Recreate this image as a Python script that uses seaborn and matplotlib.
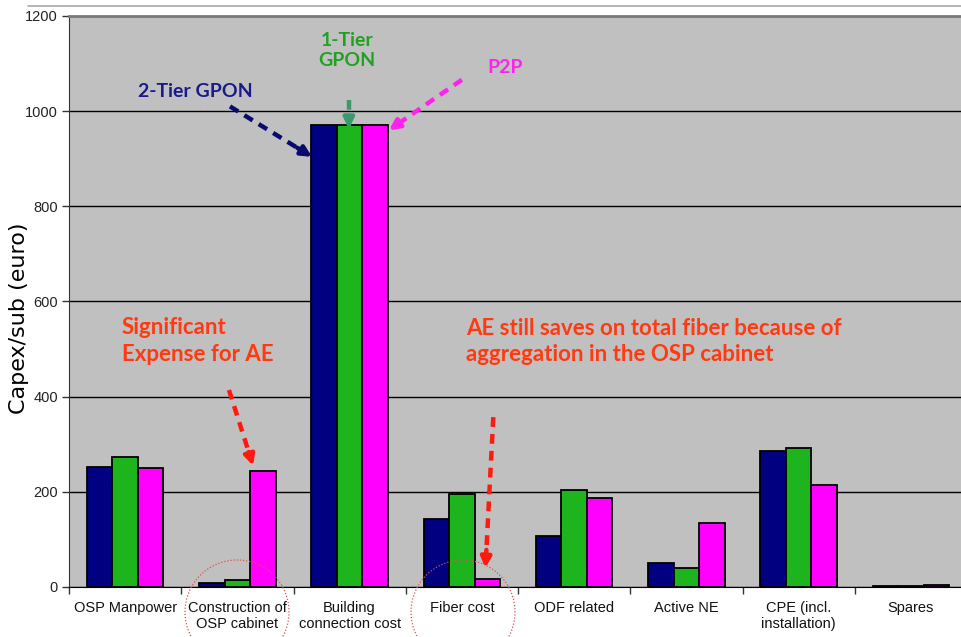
import matplotlib
matplotlib.use("Agg")
import matplotlib.pyplot as plt
from matplotlib.patches import Ellipse
from matplotlib.lines import Line2D
import numpy as np
import pandas as pd
import seaborn as sns

# Cost categories (x axis)
categories = [
    "OSP Manpower",
    "Construction of\nOSP cabinet",
    "Building\nconnection cost",
    "Fiber cost",
    "ODF related",
    "Active NE",
    "CPE (incl.\ninstallation)",
    "Spares",
]

# Capex per subscriber (euro) for each architecture
tier2_gpon = [252, 9, 970, 143, 107, 51, 286, 3]
tier1_gpon = [273, 15, 970, 195, 204, 40, 293, 3]
p2p = [250, 244, 970, 16, 187, 134, 214, 5]

schemes = ["2-Tier GPON", "1-Tier GPON", "P2P"]
colors = {"2-Tier GPON": "#000080", "1-Tier GPON": "#1EB41E", "P2P": "#FF00FF"}

y_ticks = [0, 200, 400, 600, 800, 1000, 1200]

df = pd.DataFrame({
    "category": categories * 3,
    "scheme": [s for s in schemes for _ in categories],
    "value": tier2_gpon + tier1_gpon + p2p,
})

sns.set_style("white")
plt.rcParams["font.family"] = ["Liberation Sans", "DejaVu Sans"]

fig = plt.figure(figsize=(9.61, 6.37), dpi=100)
fig.patch.set_facecolor("white")
ax = fig.add_axes([69 / 961, 50 / 637, 898 / 961, 571 / 637])
ax.set_facecolor("#C0C0C0")

sns.barplot(
    data=df, x="category", y="value", hue="scheme", order=categories,
    hue_order=schemes, palette=colors, width=0.68, gap=0,
    edgecolor="black", linewidth=1.3, saturation=1, legend=False, ax=ax,
    zorder=3,
)

ax.set_ylim(0, 1200)
ax.set_xlim(-0.5, 7.5)
ax.set_yticks(y_ticks)
ax.set_yticklabels([str(v) for v in y_ticks], fontsize=10.5, color="#222222")
ax.grid(axis="y", color="black", linewidth=1.0, zorder=0)
ax.set_axisbelow(True)

# group boundaries carry tick marks, centres carry the labels
ax.set_xticks(np.arange(-0.5, 8.0, 1.0))
ax.set_xticklabels([])
ax.set_xticks(np.arange(len(categories)), minor=True)
ax.set_xticklabels(categories, minor=True, fontsize=10.5, color="#111111")
ax.tick_params(axis="x", which="major", length=5, width=1, color="#333333",
               direction="out", bottom=True)
ax.tick_params(axis="x", which="minor", length=0, pad=10)
ax.tick_params(axis="y", length=5, width=1, color="#333333", direction="out",
               left=True, pad=3)

ax.set_xlabel("")
ax.set_ylabel("Capex/sub (euro)", fontsize=16, family="DejaVu Sans",
              color="black")
ax.yaxis.set_label_coords(-0.044, 0.47)

ax.spines["right"].set_visible(False)
ax.spines["left"].set_color("#333333")
ax.spines["bottom"].set_color("black")
ax.spines["top"].set_color("#7A7A7A")
ax.spines["top"].set_linewidth(2)

ann_font = ["Lato", "DejaVu Sans"]

# dashed pointer ending in a solid arrow head
def dashed_arrow(x0, y0, x1, y1, color, lw, frac=0.82):
    xm = x0 + (x1 - x0) * frac
    ym = y0 + (y1 - y0) * frac
    ax.plot([x0, xm], [y0, ym], color=color, lw=lw, ls=(0, (2.2, 1.6)),
            solid_capstyle="butt", dash_capstyle="butt", zorder=5,
            clip_on=False)
    ax.annotate("", xy=(x1, y1), xytext=(xm, ym),
                arrowprops=dict(arrowstyle="-|>,head_length=0.6,head_width=0.3",
                                color=color, lw=lw, shrinkA=0, shrinkB=0),
                zorder=5, annotation_clip=False)

ax.text(0.622, 1042, "2-Tier GPON", color="#1A1A8C", fontsize=14,
        family=ann_font, fontweight="bold", ha="center", va="center",
        zorder=6)
dashed_arrow(0.934, 1010, 1.665, 904, "#0A0A6E", 3.2)

ax.text(1.977, 1127, "1-Tier\nGPON", color="#22A022", fontsize=14,
        family=ann_font, ha="center", va="center", linespacing=1.2,
        fontweight="bold", zorder=6)
dashed_arrow(1.993, 1024, 1.993, 963, "#3A9A6A", 3.2, frac=0.7)

ax.text(3.384, 1091, "P2P", color="#FF22EE", fontsize=14, family=ann_font,
        fontweight="bold", ha="center", va="center", zorder=6)
dashed_arrow(3.0, 1066, 2.35, 960, "#FF22EE", 3.2)

ax.text(-0.03, 517, "Significant\nExpense for AE", color="#FF3A10",
        fontsize=16, family=ann_font, fontweight="bold", ha="left",
        va="center", linespacing=1.3, zorder=6)
dashed_arrow(0.925, 414, 1.14, 255, "#FF1A10", 3.2)

ax.text(3.035, 515, "AE still saves on total fiber because of\n"
        "aggregation in the OSP cabinet", color="#FF3A10", fontsize=16,
        family=ann_font, fontweight="bold", ha="left", va="center",
        linespacing=1.3, zorder=6)
dashed_arrow(3.28, 357, 3.21, 40, "#FF1A10", 3.2, frac=0.88)

# dotted rings around the two highlighted categories
for cx in (237, 463):
    ring = Ellipse((cx / 961, 1 - 612 / 637), 104 / 961, 104 / 637,
                   transform=fig.transFigure, fill=False, edgecolor="#E05050",
                   linestyle=(0, (1, 1.5)), linewidth=0.9, zorder=10)
    fig.add_artist(ring)

# thin divider along the top of the page
fig.add_artist(Line2D([28 / 961, 1.0], [1 - 6 / 637, 1 - 6 / 637],
                      transform=fig.transFigure, color="#A8A8A8", lw=1.2))

fig.savefig("out.png", dpi=100)
